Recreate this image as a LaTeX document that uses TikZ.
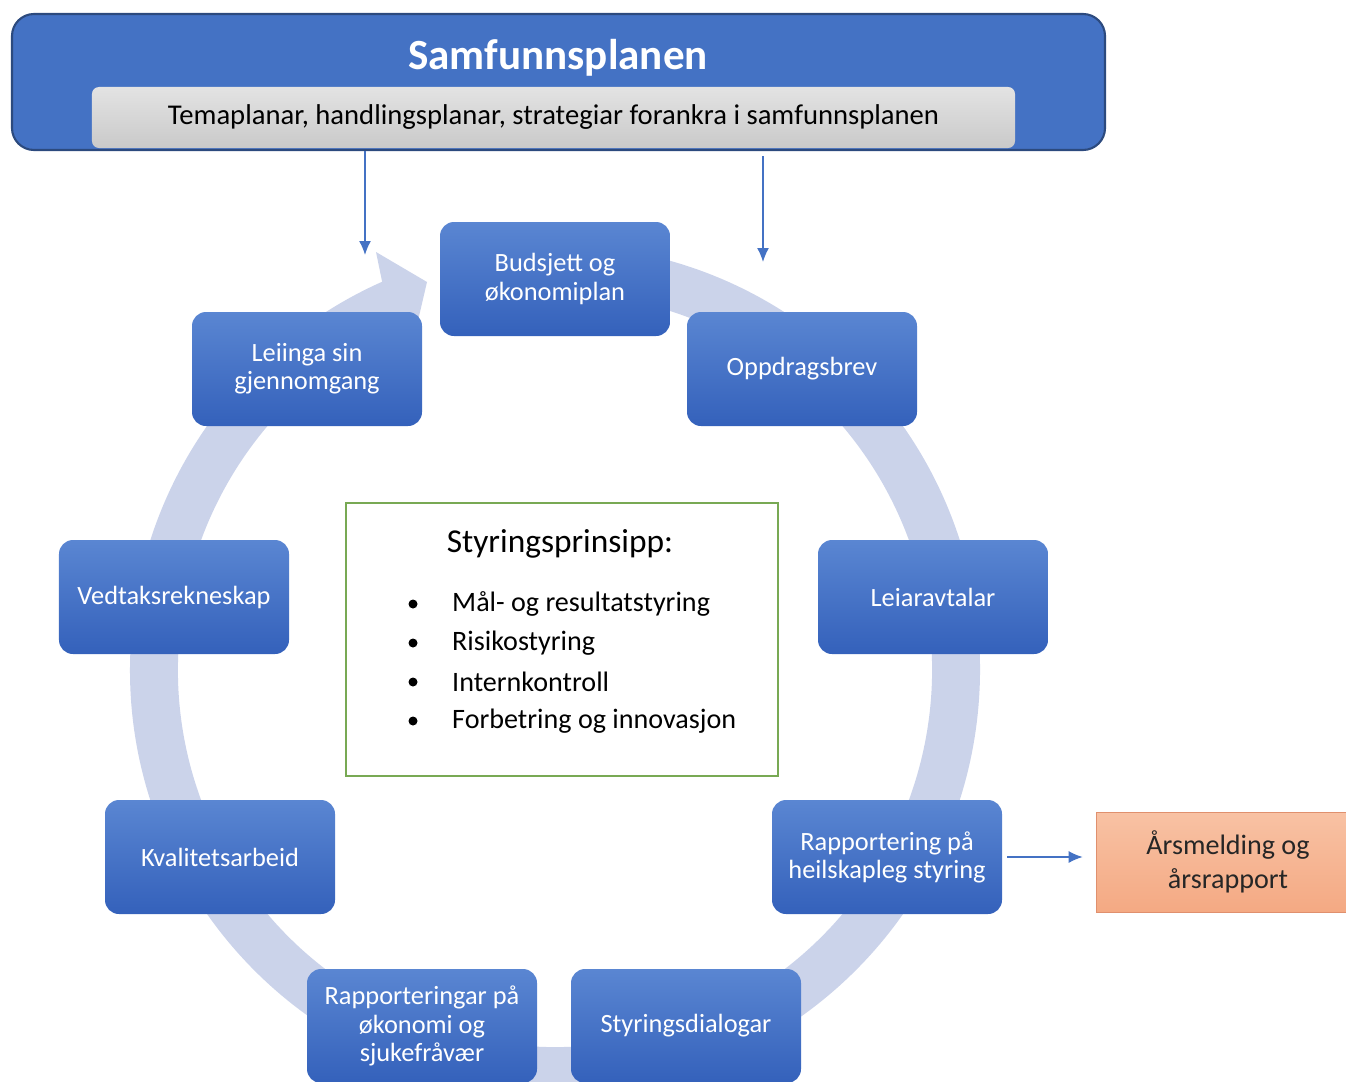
\documentclass[tikz,border=0pt]{standalone}
\usepackage{fontspec}
\setmainfont{Carlito}
\usepackage{tikz}
\usepackage{xcolor}
\usetikzlibrary{positioning, arrows.meta}
\definecolor{planblue}{HTML}{4472C4}
\definecolor{planline}{HTML}{2C4A7E}
\definecolor{boxtop}{HTML}{5A86D2}
\definecolor{boxbot}{HTML}{3461BB}
\definecolor{ringblue}{HTML}{CBD3EA}
\definecolor{prgreen}{HTML}{78A954}
\definecolor{aartop}{HTML}{F8C2A4}
\definecolor{aarbot}{HTML}{F4A983}
\definecolor{aarline}{HTML}{E0906E}

\begin{document}
\begin{tikzpicture}[x=0.2mm,y=-0.2mm,
  steg/.style={rounded corners=2.8mm, minimum width=46mm, minimum height=22.8mm,
    top color=boxtop, bottom color=boxbot, text=white, align=center,
    font=\fontsize{15}{16}\selectfont, inner sep=1mm},
  pil/.style={-{Latex[length=2.8mm,width=2.4mm]}, draw=planblue, line width=0.8pt},
  punkt/.style={anchor=west, font=\fontsize{16}{18}\selectfont}]
\useasboundingbox (0,0) rectangle (1346,1081);
\clip (0,0) rectangle (1346,1081);

% the cycle arrow behind the boxes
\coordinate (m) at (555,670);
\fill[ringblue] ([shift={(-85:425)}]m) arc[start angle=-85, end angle=246, radius=425]
  -- (376,252) -- (427,282) -- (410,355)
  -- ([shift={(246:377)}]m) arc[start angle=246, end angle=-85, radius=377] -- cycle;

% top banner
\node[draw=planline, line width=1.2pt, fill=planblue, rounded corners=4.4mm,
  minimum width=218.6mm, minimum height=27.2mm] (plan) at (558.5,82) {};
\node[text=white, font=\fontsize{24.5}{28}\bfseries] (tittel) at (558,58) {Samfunnsplanen};
\node[rounded corners=1.4mm, top color=gray!22, bottom color=gray!42,
  minimum width=184.6mm, minimum height=12.2mm, font=\fontsize{16.3}{19}\selectfont]
  (tema) at (553.5,117.5) {Temaplanar, handlingsplanar, strategiar forankra i samfunnsplanen};

% the nine steps
\node[steg] (budsjett) at (555,279) {Budsjett og\\økonomiplan};
\node[steg] (oppdrag) at (802,369) {Oppdragsbrev};
\node[steg] (leiar) at (933,597) {Leiaravtalar};
\node[steg] (rapp) at (887,857) {Rapportering på\\heilskapleg styring};
\node[steg] (dialog) at (686,1026) {Styringsdialogar};
\node[steg] (okonomi) at (422,1026) {Rapporteringar på\\økonomi og\\sjukefråvær};
\node[steg] (kvalitet) at (220,857) {Kvalitetsarbeid};
\node[steg] (vedtak) at (174,597) {Vedtaksrekneskap};
\node[steg] (leiinga) at (307,369) {Leiinga sin\\gjennomgang};

% principles in the middle
\node[draw=prgreen, line width=1.2pt, minimum width=86.4mm, minimum height=54.6mm]
  (prinsipp) at (562,639.5) {};
\node[font=\fontsize{19}{22}\selectfont] (ptittel) at (560,544) {Styringsprinsipp:};
\node[punkt] (p1) at (446,604) {Mål- og resultatstyring};
\node[punkt] (p2) at (446,643) {Risikostyring};
\node[punkt] (p3) at (446,682) {Internkontroll};
\node[punkt] (p4) at (446,721) {Forbetring og innovasjon};
\foreach \n in {p1,p2,p3,p4}
  \fill ([xshift=-33*0.2mm]\n.west) circle (0.9mm);

% year report
\node[draw=aarline, top color=aartop, bottom color=aarbot, minimum width=52.8mm,
  minimum height=20mm, align=center, text=black!85, font=\fontsize{16}{19}\selectfont]
  (aars) at (1228,862) {Årsmelding og\\årsrapport};

% arrows
\coordinate (inn1) at (365,255);
\coordinate (inn2) at (763,262);
\draw[pil] (plan.south -| inn1) -- (inn1);
\draw[pil] ([yshift=-1mm]plan.south -| inn2) -- (inn2);
\draw[pil, shorten <=1mm, shorten >=2.6mm] (rapp.east) -- (aars.west |- rapp.east);
\end{tikzpicture}
\end{document}
